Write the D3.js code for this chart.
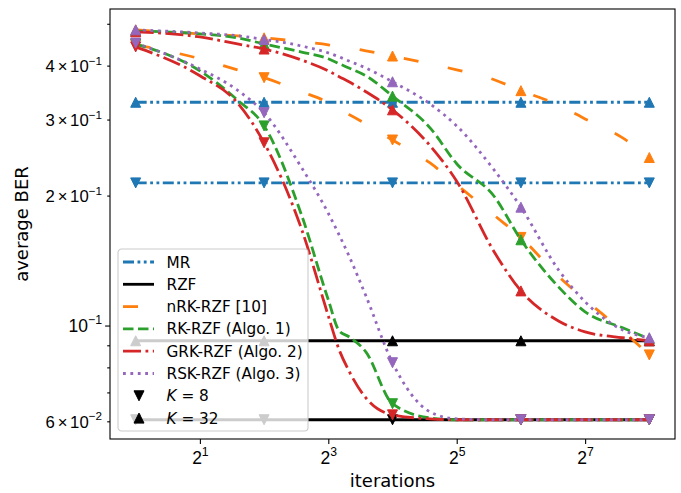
<!DOCTYPE html>
<html>
<head>
<meta charset="utf-8">
<script src="https://cdn.jsdelivr.net/npm/d3@7"></script>
<style>
body { margin: 0; background: #fff; }
svg { font-family: "DejaVu Sans", sans-serif; }
</style>
</head>
<body>
<div id="chart"></div>
<script>
const width = 681, height = 493;
const margin = {left: 110, right: 6, top: 9, bottom: 54};

// iterations where the curves were read, and where the markers sit
const iterations = [1, 2, 3, 4, 6, 8, 9, 10, 12, 16, 24, 32, 48, 64, 96, 128, 192, 256];
const markerIters = [1, 4, 16, 64, 256];

// flat references (at marker iterations)
const mrK8 = [0.214, 0.214, 0.214, 0.214, 0.214];
const mrK32 = [0.329, 0.329, 0.329, 0.329, 0.329];
const rzfK8 = [0.0605, 0.0605, 0.0605, 0.0605, 0.0605];
const rzfK32 = [0.0922, 0.0922, 0.0922, 0.0922, 0.0922];

// iterative methods (at iterations)
const nrkK32 = [0.484, 0.474, 0.469, 0.464, 0.454, 0.447, 0.442, 0.440, 0.433, 0.421, 0.404, 0.391, 0.371, 0.350, 0.324, 0.301, 0.272, 0.245];
const nrkK8  = [0.447, 0.415, 0.391, 0.375, 0.348, 0.328, 0.316, 0.308, 0.293, 0.269, 0.238, 0.212, 0.180, 0.160, 0.130, 0.1147, 0.0972, 0.0855];
const rkK32  = [0.481, 0.474, 0.464, 0.449, 0.430, 0.415, 0.404, 0.395, 0.379, 0.340, 0.287, 0.237, 0.199, 0.158, 0.1229, 0.1076, 0.0988, 0.0932];
const rkK8   = [0.449, 0.389, 0.333, 0.290, 0.180, 0.1147, 0.0972, 0.0942, 0.0869, 0.0659, 0.0611, 0.0605, 0.0605, 0.0605, 0.0605, 0.0605, 0.0605, 0.0605];
const grkK32 = [0.479, 0.466, 0.449, 0.437, 0.412, 0.389, 0.377, 0.367, 0.348, 0.316, 0.261, 0.216, 0.148, 0.1203, 0.1025, 0.0967, 0.0937, 0.0922];
const grkK8  = [0.442, 0.379, 0.328, 0.265, 0.167, 0.1053, 0.0878, 0.0785, 0.0680, 0.0621, 0.0608, 0.0605, 0.0605, 0.0605, 0.0605, 0.0605, 0.0605, 0.0605];
const rskK32 = [0.484, 0.476, 0.469, 0.460, 0.444, 0.428, 0.419, 0.410, 0.395, 0.367, 0.326, 0.290, 0.229, 0.188, 0.1346, 0.1135, 0.0977, 0.0937];
const rskK8  = [0.451, 0.393, 0.351, 0.311, 0.232, 0.182, 0.162, 0.145, 0.1172, 0.0820, 0.0631, 0.0608, 0.0605, 0.0605, 0.0605, 0.0605, 0.0605, 0.0605];

const xTicks = [2, 8, 32, 128];
const yMajor = [0.1];
const yMinor = [0.06, 0.07, 0.08, 0.09, 0.2, 0.3, 0.4, 0.5];
const yMinorLabels = [0.06, 0.2, 0.3, 0.4];

const series = [
  {label: "MR", color: "#1f77b4", dash: "11,3.5,2.8,3.5,2.8,3.5", xs: markerIters, k8: mrK8, k32: mrK32},
  {label: "RZF", color: "#000000", dash: null, xs: markerIters, k8: rzfK8, k32: rzfK32},
  {label: "nRK-RZF [10]", color: "#ff7f0e", dash: "15,30", xs: iterations, k8: nrkK8, k32: nrkK32},
  {label: "RK-RZF (Algo. 1)", color: "#2ca02c", dash: "10.5,4.5", xs: iterations, k8: rkK8, k32: rkK32},
  {label: "GRK-RZF (Algo. 2)", color: "#d62728", dash: "18,4.5,2.8,4.5", xs: iterations, k8: grkK8, k32: grkK32},
  {label: "RSK-RZF (Algo. 3)", color: "#9467bd", dash: "2.8,4.6", xs: iterations, k8: rskK8, k32: rskK32}
];

const svg = d3.select("#chart").append("svg")
  .attr("width", width).attr("height", height);

const x = d3.scaleLog().base(2)
  .domain([Math.pow(2, -0.4), Math.pow(2, 8.4)])
  .range([margin.left, width - margin.right]);
const y = d3.scaleLog()
  .domain([0.0546, 0.541])
  .range([height - margin.bottom, margin.top]);

svg.append("clipPath").attr("id", "clip")
  .append("rect")
  .attr("x", margin.left).attr("y", margin.top)
  .attr("width", width - margin.left - margin.right)
  .attr("height", height - margin.top - margin.bottom);

const line = d3.line()
  .x(d => x(d[0]))
  .y(d => y(d[1]))
  .curve(d3.curveMonotoneX);

function tri(up, r) {
  return up ? `M0,${-r}L${r},${r}L${-r},${r}Z` : `M0,${r}L${r},${-r}L${-r},${-r}Z`;
}

const plot = svg.append("g").attr("clip-path", "url(#clip)");

series.forEach(s => {
  [["k8", false], ["k32", true]].forEach(([key, up]) => {
    const pts = s.xs.map((it, i) => [it, s[key][i]]);
    plot.append("path")
      .attr("d", line(pts))
      .attr("fill", "none")
      .attr("stroke", s.color)
      .attr("stroke-width", 2.8)
      .attr("stroke-dasharray", s.dash);
    const marks = pts.filter(p => markerIters.includes(p[0]));
    plot.selectAll(null).data(marks).enter().append("path")
      .attr("d", tri(up, 5))
      .attr("transform", d => `translate(${x(d[0])},${y(d[1])})`)
      .attr("fill", s.color)
      .attr("stroke", s.color)
      .attr("stroke-width", 1);
  });
});

// axes
const xAxis = svg.append("g")
  .attr("transform", `translate(0,${height - margin.bottom})`)
  .call(d3.axisBottom(x).tickValues(xTicks).tickSize(4.9).tickFormat(""));
xAxis.select(".domain").remove();
xAxis.selectAll(".tick line").attr("stroke-width", 1.1);
xAxis.selectAll(".tick").append("text")
  .attr("y", 25).attr("fill", "#000").attr("font-size", 17.5)
  .attr("text-anchor", "middle")
  .each(function(d) {
    const t = d3.select(this);
    t.append("tspan").text("2");
    t.append("tspan").attr("dy", -7.8).attr("font-size", 12.2).text(Math.log2(d));
  });

const yAxisMajor = svg.append("g")
  .attr("transform", `translate(${margin.left},0)`)
  .call(d3.axisLeft(y).tickValues(yMajor).tickSize(4.9).tickFormat(""));
const yAxisMinor = svg.append("g")
  .attr("transform", `translate(${margin.left},0)`)
  .call(d3.axisLeft(y).tickValues(yMinor).tickSize(2.8).tickFormat(""));
[yAxisMajor, yAxisMinor].forEach(g => {
  g.select(".domain").remove();
  g.selectAll(".tick line").attr("stroke-width", 1.1);
});

// labels 10^e on the major tick, m×10^e on some minor ticks
function yLabel(g, v, fs) {
  const e = Math.floor(Math.log10(v) + 1e-9);
  const m = Math.round(v / Math.pow(10, e));
  const t = g.append("text")
    .attr("x", -8).attr("y", fs * 0.36)
    .attr("fill", "#000").attr("font-size", fs)
    .attr("text-anchor", "end");
  if (m !== 1) {
    t.append("tspan").text(m);
    t.append("tspan").attr("dx", 3).text("×");
    t.append("tspan").attr("dx", 2.5).text("10");
  } else {
    t.append("tspan").text("10");
  }
  t.append("tspan").attr("dy", -fs * 0.45).attr("font-size", fs * 0.7).text("−" + Math.abs(e));
}
yAxisMajor.selectAll(".tick").each(function(d) { yLabel(d3.select(this), d, 17.5); });
yAxisMinor.selectAll(".tick").filter(d => yMinorLabels.includes(d))
  .each(function(d) { yLabel(d3.select(this), d, 16.7); });

svg.append("rect")
  .attr("x", margin.left).attr("y", margin.top)
  .attr("width", width - margin.left - margin.right)
  .attr("height", height - margin.top - margin.bottom)
  .attr("fill", "none").attr("stroke", "#000").attr("stroke-width", 1.1);

svg.append("text")
  .attr("x", (margin.left + width - margin.right) / 2).attr("y", 487)
  .attr("text-anchor", "middle").attr("font-size", 18).text("iterations");
svg.append("text")
  .attr("transform", `translate(28,${(margin.top + height - margin.bottom) / 2}) rotate(-90)`)
  .attr("text-anchor", "middle").attr("font-size", 18).text("average BER");

// legend
const legend = svg.append("g").attr("transform", "translate(118,249)");
legend.append("rect")
  .attr("width", 190).attr("height", 182).attr("rx", 3.5)
  .attr("fill", "#fff").attr("fill-opacity", 0.8)
  .attr("stroke", "#cccccc").attr("stroke-width", 1.1);

const legendItems = series.map(s => ({label: s.label, color: s.color, dash: s.dash}))
  .concat([{label: "8", marker: false}, {label: "32", marker: true}]);

legendItems.forEach((it, i) => {
  const row = legend.append("g").attr("transform", `translate(0,${13 + i * 22.3})`);
  if (it.marker === undefined) {
    row.append("line")
      .attr("x1", 5).attr("x2", 36)
      .attr("stroke", it.color).attr("stroke-width", 2.8)
      .attr("stroke-dasharray", it.dash);
  } else {
    row.append("path").attr("d", tri(it.marker, 5))
      .attr("transform", "translate(21,0)")
      .attr("fill", "#000").attr("stroke", "#000");
  }
  const t = row.append("text").attr("x", 48.5).attr("y", 5.5).attr("font-size", 15.3);
  if (it.marker === undefined) {
    t.text(it.label);
  } else {
    t.append("tspan").attr("font-style", "italic").text("K");
    t.append("tspan").text(" = " + it.label);
  }
});
</script>
</body>
</html>
